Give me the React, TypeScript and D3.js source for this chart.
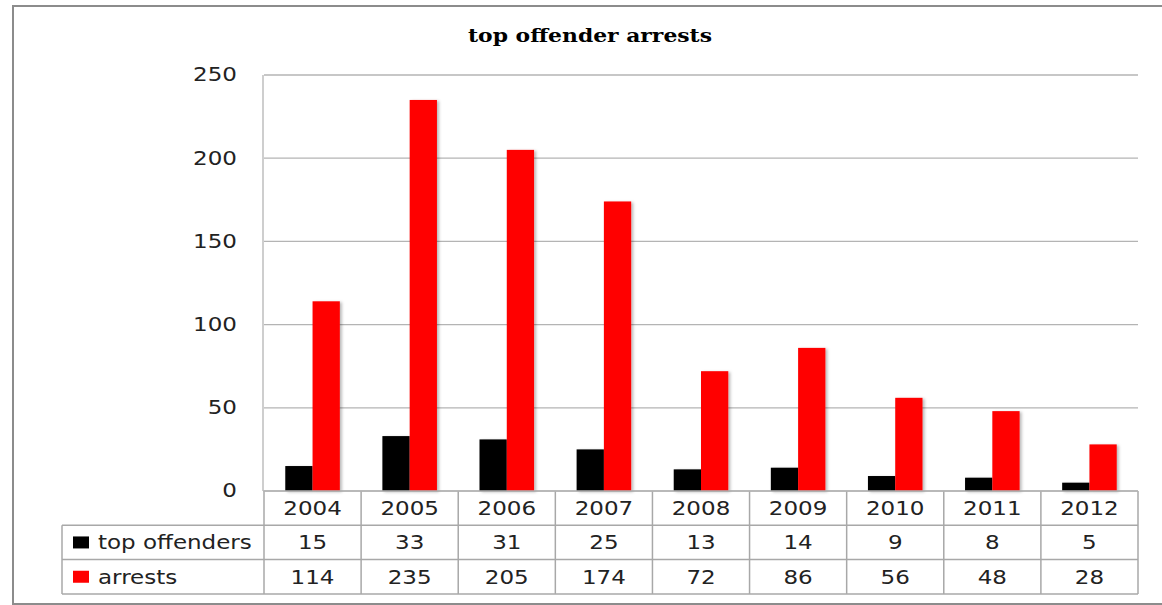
import React from "react";
import * as d3 from "d3";

const categories = ["2004", "2005", "2006", "2007", "2008", "2009", "2010", "2011", "2012"];
const seriesNames = ["top offenders", "arrests"];
const topOffenders = [15, 33, 31, 25, 13, 14, 9, 8, 5];
const arrests = [114, 235, 205, 174, 72, 86, 56, 48, 28];
const yTicks = [0, 50, 100, 150, 200, 250];
const colors = ["#000000", "#ff0000"];
const title = "top offender arrests";

const W = 1162;
const H = 605;
const plot = { left: 264, right: 1138, top: 75, bottom: 491 };
const rowH = 34.3;
const tableLeft = 62;
const SX = 1.15;
const font = "'DejaVu Sans', sans-serif";

export default function App() {
  const x = d3.scaleBand<string>().domain(categories).range([plot.left, plot.right]).padding(0);
  const bw = x.bandwidth();
  const xs = d3.scaleBand<string>().domain(seriesNames).range([0, bw]).paddingInner(0).paddingOuter(0.78);
  const y = d3.scaleLinear().domain([0, 250]).range([plot.bottom, plot.top]);
  const seriesValues = [topOffenders, arrests];

  const rows = [plot.bottom, plot.bottom + rowH, plot.bottom + 2 * rowH, plot.bottom + 3 * rowH];
  const tableBottom = rows[3];
  const gridColor = "#b4b4b4";
  const tableColor = "#a8a8a8";

  const T = (props: { x: number; y: number; anchor?: string; children: React.ReactNode; size?: number }) => (
    <text
      transform={`translate(${props.x},${props.y}) scale(${SX},1)`}
      textAnchor={props.anchor || "middle"}
      dominantBaseline="central"
      fontFamily={font}
      fontSize={props.size || 20}
      fill="#222"
    >
      {props.children}
    </text>
  );

  return (
    <svg width={W} height={H} style={{ position: "absolute", left: 0, top: 0 }}>
      <defs>
        <filter id="sh" x="-20%" y="-5%" width="150%" height="115%">
          <feDropShadow dx="2" dy="1" stdDeviation="1.5" floodColor="#000" floodOpacity="0.28" />
        </filter>
      </defs>
      <rect x={0} y={0} width={W} height={H} fill="#fff" />
      {/* outer border */}
      <rect x={13} y={6} width={W + 10} height={598} fill="none" stroke="#8c8c8c" strokeWidth={2} />

      {/* title */}
      <text
        x={590}
        y={42}
        textAnchor="middle"
        fontFamily="'DejaVu Serif', 'Liberation Serif', serif"
        fontWeight="bold"
        fontSize={19}
        textLength={244}
        lengthAdjust="spacingAndGlyphs"
        fill="#000"
      >
        {title}
      </text>

      {/* gridlines */}
      {yTicks.map((t) => (
        <line key={t} x1={plot.left} x2={plot.right} y1={y(t)} y2={y(t)} stroke={gridColor} strokeWidth={1.3} />
      ))}
      <line x1={plot.left - 1} x2={plot.left - 1} y1={plot.top} y2={plot.bottom} stroke={gridColor} strokeWidth={1.3} />

      {/* y tick labels */}
      {yTicks.map((t) => (
        <T key={t} x={237} y={y(t) - 0.5} anchor="end">
          {t}
        </T>
      ))}

      {/* bars */}
      {categories.map((c, i) => (
        <g key={c} filter="url(#sh)">
          {seriesNames.map((s, si) => (
            <rect
              key={s}
              x={(x(c) as number) + (xs(s) as number)}
              y={y(seriesValues[si][i])}
              width={xs.bandwidth()}
              height={plot.bottom - y(seriesValues[si][i])}
              fill={colors[si]}
            />
          ))}
        </g>
      ))}

      {/* data table */}
      <g stroke={tableColor} strokeWidth={1.5}>
        {categories.map((c) => (
          <line key={c} x1={x(c) as number} x2={x(c) as number} y1={plot.bottom} y2={tableBottom} />
        ))}
        <line x1={plot.right} x2={plot.right} y1={plot.bottom} y2={tableBottom} />
        <line x1={tableLeft} x2={tableLeft} y1={rows[1]} y2={tableBottom} />
        <line x1={tableLeft} x2={plot.right} y1={rows[1]} y2={rows[1]} />
        <line x1={tableLeft} x2={plot.right} y1={rows[2]} y2={rows[2]} />
        <line x1={tableLeft} x2={plot.right} y1={rows[3]} y2={rows[3]} />
      </g>
      <line x1={plot.left - 1} x2={plot.right} y1={plot.bottom} y2={plot.bottom} stroke={gridColor} strokeWidth={1.5} />

      {categories.map((c) => (
        <T key={c} x={(x(c) as number) + bw / 2} y={(rows[0] + rows[1]) / 2}>
          {c}
        </T>
      ))}
      {seriesNames.map((s, si) => (
        <g key={s}>
          <rect x={73} y={(rows[si + 1] + rows[si + 2]) / 2 - 6} width={16} height={12} fill={colors[si]} />
          <T x={98} y={(rows[si + 1] + rows[si + 2]) / 2} anchor="start">
            {s}
          </T>
          {categories.map((c, i) => (
            <T key={c} x={(x(c) as number) + bw / 2} y={(rows[si + 1] + rows[si + 2]) / 2}>
              {seriesValues[si][i]}
            </T>
          ))}
        </g>
      ))}
    </svg>
  );
}
